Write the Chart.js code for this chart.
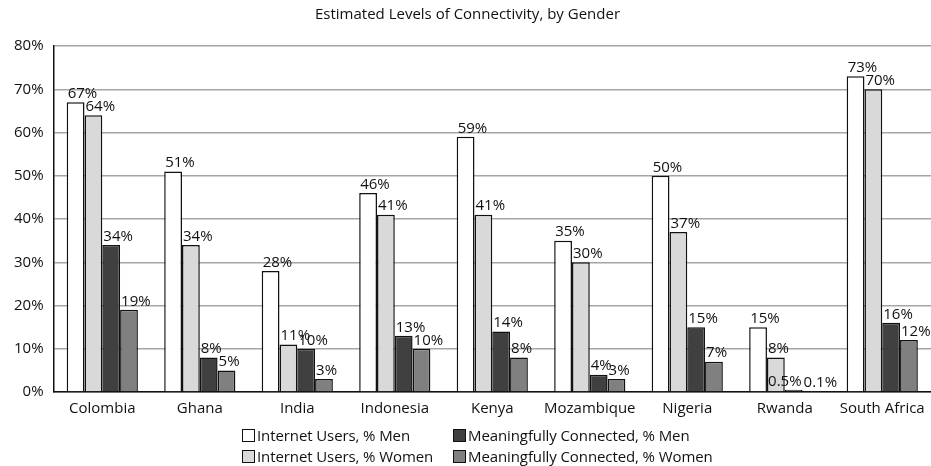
<!DOCTYPE html>
<html>
<head>
<meta charset="utf-8">
<script src="https://cdn.jsdelivr.net/npm/chart.js@4/dist/chart.umd.min.js"></script>
<style>
    body { margin: 0; background: #fff; }
    #wrap { position: relative; width: 931px; height: 466px; }
    #legend {
        position: absolute; left: 242px; top: 425px;
        display: grid; grid-template-columns: 211px auto; row-gap: 1px;
        font: 15px "Open Sans", sans-serif; color: #111;
    }
    #legend span.item { display: flex; align-items: center; height: 20px; white-space: nowrap; letter-spacing: -0.1px; }
    #legend i { display: inline-block; width: 11px; height: 11px; border: 1.5px solid #111; margin-right: 2px; }
</style>
</head>
<body>
<div id="wrap">
    <canvas id="connectivityChart" width="931" height="466"></canvas>
    <div id="legend"></div>
</div>
<script>
const countries = ['Colombia', 'Ghana', 'India', 'Indonesia', 'Kenya', 'Mozambique', 'Nigeria', 'Rwanda', 'South Africa'];
const internetMen = [67, 51, 28, 46, 59, 35, 50, 15, 73];
const internetWomen = [64, 34, 11, 41, 41, 30, 37, 8, 70];
const connectedMen = [34, 8, 10, 13, 14, 4, 15, 0.5, 16];
const connectedWomen = [19, 5, 3, 10, 8, 3, 7, 0.1, 12];
const yTicks = [0, 10, 20, 30, 40, 50, 60, 70, 80];

const fontFamily = '"Open Sans", sans-serif';

const series = [
    { label: 'Internet Users, % Men', data: internetMen, color: '#ffffff' },
    { label: 'Internet Users, % Women', data: internetWomen, color: '#d9d9d9' },
    { label: 'Meaningfully Connected, % Men', data: connectedMen, color: '#404040' },
    { label: 'Meaningfully Connected, % Women', data: connectedWomen, color: '#808080' }
];

// value labels above each bar, starting at the bar's left edge
const barLabels = {
    id: 'barLabels',
    afterDatasetsDraw(chart) {
        const ctx = chart.ctx;
        ctx.save();
        ctx.font = '15px ' + fontFamily;
        ctx.fillStyle = '#111';
        ctx.textAlign = 'left';
        ctx.textBaseline = 'bottom';
        const n = chart.data.datasets.length;
        chart.data.labels.forEach((_, j) => {
            const items = [];
            for (let i = 0; i < n; i++) {
                const bar = chart.getDatasetMeta(i).data[j];
                const text = chart.data.datasets[i].data[j] + '%';
                items.push({ text, x: bar.x - bar.width / 2 + 1, y: bar.y - 1, w: ctx.measureText(text).width });
            }
            // push a label left when it sits at nearly the same height as the next one
            for (let i = n - 2; i >= 0; i--) {
                const a = items[i], b = items[i + 1];
                if (Math.abs(a.y - b.y) < 3 && a.x + a.w > b.x - 2) a.x = b.x - 2 - a.w;
            }
            items.forEach(it => ctx.fillText(it.text, it.x, it.y));
        });
        ctx.restore();
    }
};

new Chart(document.getElementById('connectivityChart').getContext('2d'), {
    type: 'bar',
    data: {
        labels: countries,
        datasets: series.map(s => ({
            label: s.label,
            data: s.data,
            backgroundColor: s.color,
            borderColor: '#111',
            borderWidth: 1.5,
            categoryPercentage: 0.73,
            barPercentage: 1
        }))
    },
    options: {
        responsive: false,
        animation: false,
        layout: { padding: { top: 4, right: 0, bottom: 48, left: 4 } },
        plugins: {
            legend: { display: false },
            tooltip: { enabled: false },
            title: {
                display: true,
                text: 'Estimated Levels of Connectivity, by Gender',
                color: '#111',
                font: { family: fontFamily, size: 15, weight: 'normal' },
                padding: { top: 2, bottom: 22 }
            }
        },
        scales: {
            x: {
                grid: { display: false },
                border: { color: '#111', width: 1.5 },
                ticks: {
                    color: '#111', font: { family: fontFamily, size: 15 }, padding: 0,
                    maxRotation: 0, minRotation: 0, autoSkip: false
                }
            },
            y: {
                min: 0,
                max: 80,
                afterBuildTicks: axis => { axis.ticks = yTicks.map(v => ({ value: v })); },
                grid: { color: '#a6a6a6', lineWidth: 1.5, drawTicks: false },
                border: { color: '#111', width: 1.5 },
                ticks: { color: '#111', font: { family: fontFamily, size: 15 }, padding: 10, callback: v => v + '%' }
            }
        }
    },
    plugins: [barLabels]
});

// two-column legend as in the original
const legend = document.getElementById('legend');
[0, 2, 1, 3].forEach(i => {
    const item = document.createElement('span');
    item.className = 'item';
    item.innerHTML = '<i style="background:' + series[i].color + '"></i>' + series[i].label;
    legend.appendChild(item);
});
</script>
</body>
</html>
